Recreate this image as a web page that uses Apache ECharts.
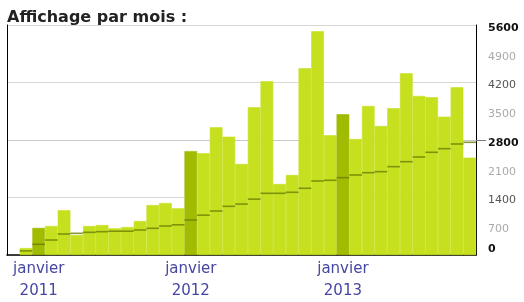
<!DOCTYPE html>
<html><head><meta charset="utf-8">
<script src="https://cdn.jsdelivr.net/npm/echarts@6/dist/echarts.min.js"></script>
<style>html,body{margin:0;padding:0;background:#fff}#c{width:524px;height:302px}</style>
</head><body><div id="c"></div>
<script>
const titleText = 'Affichage par mois :';
const months = ['2010-11','2010-12',
 '2011-01','2011-02','2011-03','2011-04','2011-05','2011-06','2011-07','2011-08','2011-09','2011-10','2011-11','2011-12',
 '2012-01','2012-02','2012-03','2012-04','2012-05','2012-06','2012-07','2012-08','2012-09','2012-10','2012-11','2012-12',
 '2013-01','2013-02','2013-03','2013-04','2013-05','2013-06','2013-07','2013-08','2013-09','2013-10','2013-11'];
const views = [null,170,
 660,706,1090,487,706,730,650,680,828,1217,1265,1137,
 2530,2476,3109,2880,2216,3596,4230,1729,1948,4546,5447,2915,
 3426,2824,3628,3141,3572,4424,3872,3840,3368,4084,2370];
const trend = [null,100,
 260,365,511,528,552,568,580,580,609,650,706,735,
 852,970,1071,1185,1240,1360,1502,1502,1527,1624,1802,1819,
 1883,1948,2004,2029,2151,2272,2386,2500,2589,2703,2744];
const monthName = 'janvier';
const yMax = 5600, yStep = 700;
const yStrong = [0, 2800, 5600];
const yMid = [1400, 4200];

function barColor(i){return months[i].slice(5)==='01'?'#a0bb00':'#c6e01f';}
const barData = views.map(function(v,i){
  const c = barColor(i);
  return {value:v,itemStyle:{color:c,borderColor:c,borderWidth:0.6}};
});

const chart = echarts.init(document.getElementById('c'), null, {renderer:'canvas'});
chart.setOption({
  animation:false,
  title:{text:titleText,left:2,top:5,textStyle:{fontFamily:'DejaVu Sans',fontSize:16,fontWeight:'bold',color:'#222'}},
  grid:{left:7,right:48,top:25,bottom:47},
  xAxis:{type:'category',data:months,boundaryGap:true,
    axisLine:{show:true,lineStyle:{color:'#000',width:1.5}},
    axisTick:{show:false},
    axisLabel:{interval:0,margin:3,fontFamily:'DejaVu Sans',fontSize:15,lineHeight:22,color:'#4646a3',
      formatter:function(v){const p=v.split('-');return p[1]==='01'?monthName+'\n'+p[0]:'';}}
  },
  yAxis:[
    {type:'value',position:'right',min:0,max:yMax,interval:yStep,
      axisLine:{show:true,lineStyle:{color:'#000',width:1}},
      axisTick:{show:true,customValues:[2800],length:10,lineStyle:{color:'#777'}},
      splitLine:{show:true,lineStyle:{color:'#d0d0d0',type:[1,2]}},
      axisLabel:{margin:12,padding:[6,0,0,0],verticalAlignMinLabel:'bottom',fontFamily:'DejaVu Sans',fontSize:11,
        formatter:function(v){ if(yStrong.indexOf(v)>=0) return '{s|'+v+'}'; if(yMid.indexOf(v)>=0) return '{m|'+v+'}'; return '{l|'+v+'}';},
        rich:{s:{fontWeight:'bold',color:'#111',fontSize:11,fontFamily:'DejaVu Sans'},
              m:{color:'#555',fontSize:11,fontFamily:'DejaVu Sans'},
              l:{color:'#aaa',fontSize:11,fontFamily:'DejaVu Sans'}}}
    },
    {type:'value',position:'left',min:0,max:yMax,interval:yStep*2,
      axisLine:{show:true,lineStyle:{color:'#000',width:1}},
      axisTick:{show:false},axisLabel:{show:false},
      splitLine:{show:true,lineStyle:{color:['#d8d8d8','#d8d8d8','#c8c8c8','#d8d8d8','#d8d8d8'],width:1}}
    }
  ],
  series:[
    {type:'bar',data:barData,yAxisIndex:0,barCategoryGap:'0%'},
    {type:'scatter',data:trend,yAxisIndex:0,symbol:'rect',symbolSize:[12.7,1.6],z:3,
      itemStyle:{color:'#6b7f04'}}
  ]
});
</script></body></html>
